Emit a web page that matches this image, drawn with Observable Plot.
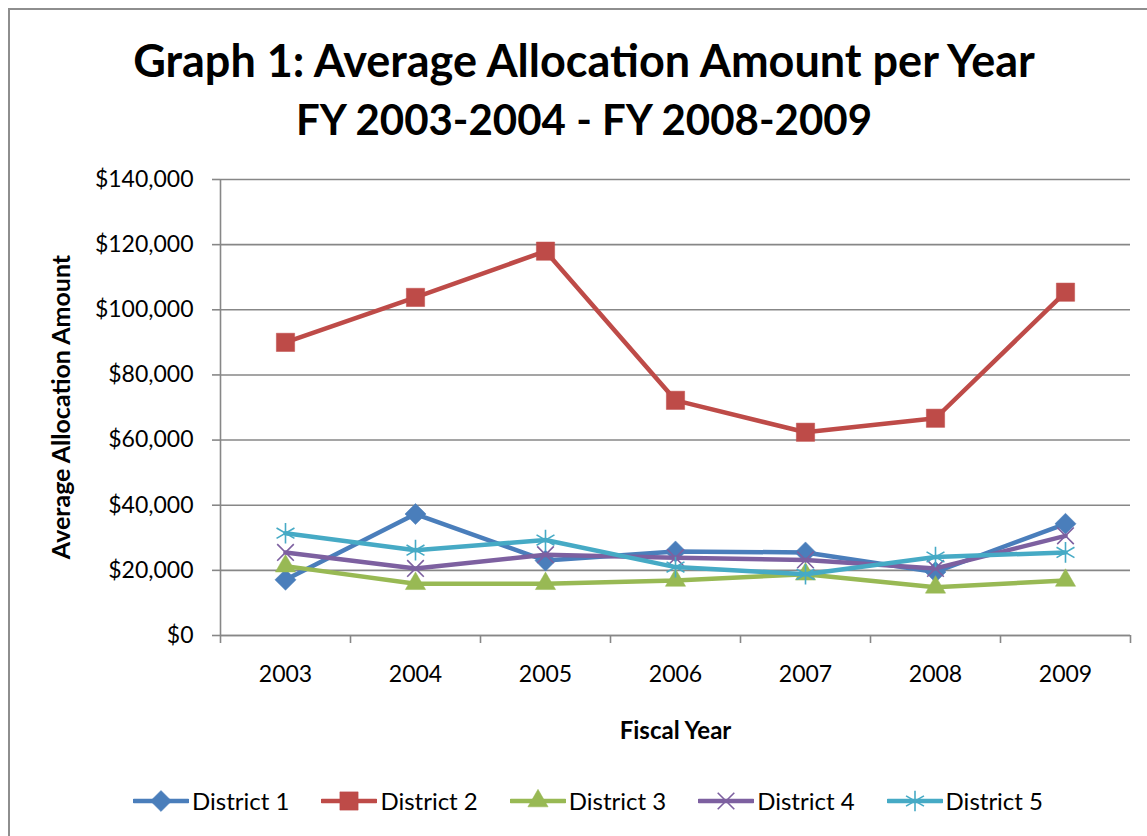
<!DOCTYPE html>
<html>
<head>
<meta charset="utf-8">
<script src="https://cdn.jsdelivr.net/npm/d3@7"></script>
<script src="https://cdn.jsdelivr.net/npm/@observablehq/plot@0.6"></script>
<style>
  html, body { margin: 0; padding: 0; background: #fff; }
  body { width: 1147px; height: 836px; position: relative; overflow: hidden; font-family: Lato, "Open Sans", sans-serif; }
  #frame { position: absolute; left: 8px; top: 8px; width: 1200px; height: 900px; border: 2px solid #8e8e8e; box-sizing: border-box; }
  #title { position: absolute; left: 0; width: 1168px; top: 31px; text-align: center; font-weight: bold; font-size: 45px; line-height: 58px; color: #000; }
  #title .l2 { font-size: 42px; }
  #chart { position: absolute; left: 0; top: 150px; }
  #ylabel { position: absolute; left: 60px; top: 407px; transform: translate(-50%, -50%) rotate(-90deg); white-space: nowrap; font-weight: bold; font-size: 25px; }
  #legend { position: absolute; left: 0; width: 1176px; top: 786px; display: flex; justify-content: center; gap: 32px; font-size: 24px; }
  .item { display: flex; align-items: center; gap: 3px; }
</style>
</head>
<body>
<div id="frame"></div>
<div id="title">Graph 1: Average Allocation Amount per Year<br><span class="l2">FY 2003-2004 - FY 2008-2009</span></div>
<div id="chart"></div>
<div id="ylabel">Average Allocation Amount</div>
<div id="legend"></div>
<script>
const years = [2003, 2004, 2005, 2006, 2007, 2008, 2009];
const district1 = [17100, 37300, 23000, 25800, 25500, 19500, 34300];
const district2 = [90000, 103800, 118000, 72200, 62400, 66700, 105400];
const district3 = [21300, 15900, 15900, 16900, 18800, 14800, 16900];
const district4 = [25500, 20600, 24800, 23900, 23200, 20600, 30600];
const district5 = [31400, 26200, 29300, 21000, 18800, 24100, 25500];
const seriesNames = ["District 1", "District 2", "District 3", "District 4", "District 5"];
const seriesColors = ["#4A7EBB", "#BE4B48", "#98B954", "#7D60A0", "#46AAC5"];
const seriesSymbols = ["diamond2", "square", "triangle", "times", "asterisk"];
const symbolR = [9.5, 10.3, 7.5, 7.6, 9.8];
const symbolFilled = [true, true, true, false, false];
const yTicks = [0, 20000, 40000, 60000, 80000, 100000, 120000, 140000];

const seriesValues = [district1, district2, district3, district4, district5];
const rows = seriesNames.map((name, i) => years.map((y, j) => ({series: name, year: y, value: seriesValues[i][j]})));
const boundaries = d3.range(years[0] - 0.5, years[years.length - 1] + 1, 1);
const fmt = v => "$" + d3.format(",")(v);
const axisColor = "#878787";

const marks = [
  Plot.gridY(yTicks, {stroke: axisColor, strokeOpacity: 1, strokeWidth: 1.6}),
  Plot.ruleX([boundaries[0]], {stroke: axisColor, strokeWidth: 1.6}),
  Plot.ruleY([0], {stroke: axisColor, strokeWidth: 1.6}),
  Plot.axisY({ticks: yTicks, tickFormat: fmt, tickSize: 8, tickPadding: 19, stroke: axisColor, strokeWidth: 1.6, label: null, fontSize: 23}),
  Plot.axisX({ticks: boundaries, tickFormat: () => "", tickSize: 8, stroke: axisColor, strokeWidth: 1.6, label: null}),
  Plot.axisX({ticks: years, tickFormat: d => String(d), tickSize: 0, tickPadding: 30, label: null, fontSize: 23}),
  Plot.text(["Fiscal Year"], {frameAnchor: "bottom", dy: 103, fontWeight: "bold", fontSize: 24})
];
rows.forEach((data, i) => {
  marks.push(Plot.line(data, {x: "year", y: "value", stroke: seriesColors[i], strokeWidth: 4.5, strokeLinejoin: "round"}));
  marks.push(Plot.dot(data, {
    x: "year", y: "value", symbol: () => seriesSymbols[i], r: symbolR[i],
    fill: symbolFilled[i] ? seriesColors[i] : "none",
    stroke: seriesColors[i], strokeWidth: symbolFilled[i] ? 0.5 : 1.6
  }));
});

const chart = Plot.plot({
  width: 1147,
  height: 610,
  marginLeft: 220,
  marginRight: 17,
  marginTop: 29,
  marginBottom: 125,
  style: {fontFamily: "Lato, 'Open Sans', sans-serif", fontSize: "23px", color: "#000", background: "transparent", overflow: "visible"},
  x: {type: "linear", domain: [boundaries[0], boundaries[boundaries.length - 1]], axis: null},
  y: {domain: [0, 140000], axis: null},
  symbol: {type: "identity"},
  marks
});
document.getElementById("chart").appendChild(chart);

// legend
const legend = document.getElementById("legend");
const symMap = {diamond2: d3.symbolDiamond2, square: d3.symbolSquare, triangle: d3.symbolTriangle, times: d3.symbolTimes, asterisk: d3.symbolAsterisk};
seriesNames.forEach((name, i) => {
  const item = document.createElement("div");
  item.className = "item";
  const svg = d3.create("svg").attr("width", 56).attr("height", 24);
  svg.append("line").attr("x1", 1).attr("x2", 55).attr("y1", 12).attr("y2", 12)
    .attr("stroke", seriesColors[i]).attr("stroke-width", 4.5).attr("stroke-linecap", "round");
  svg.append("path").attr("transform", "translate(28,12)")
    .attr("d", d3.symbol(symMap[seriesSymbols[i]], Math.PI * symbolR[i] * symbolR[i])())
    .attr("fill", symbolFilled[i] ? seriesColors[i] : "none")
    .attr("stroke", seriesColors[i]).attr("stroke-width", symbolFilled[i] ? 0.5 : 1.6);
  item.appendChild(svg.node());
  const label = document.createElement("span");
  label.textContent = name;
  item.appendChild(label);
  legend.appendChild(item);
});
</script>
</body>
</html>
